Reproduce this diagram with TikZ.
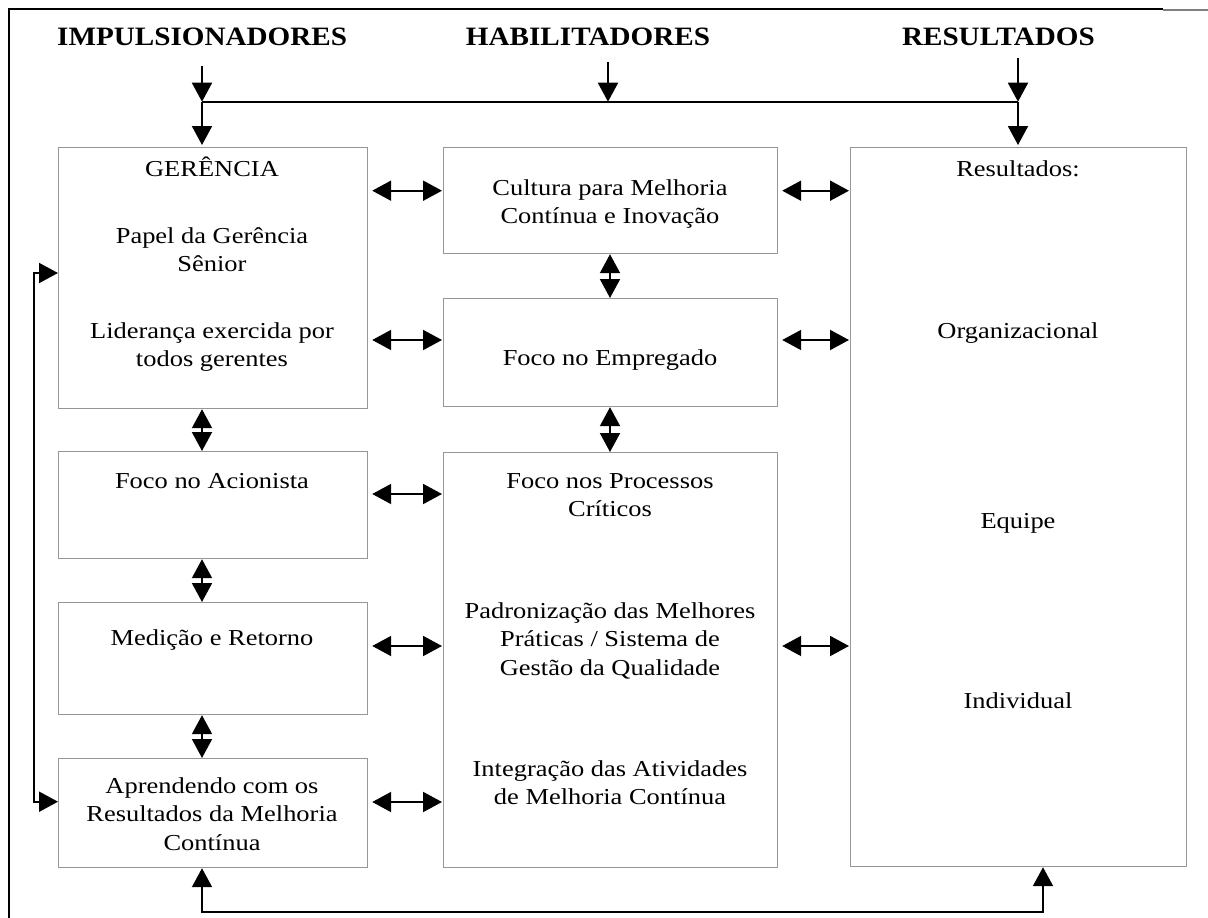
\documentclass[tikz,border=0pt]{standalone}
\usepackage{fontspec}
\setmainfont{Liberation Serif}[FakeStretch=1.16]
\newfontfamily\hdrfont{Liberation Serif}[FakeStretch=1.1]
\usetikzlibrary{arrows.meta,calc}
\definecolor{boxgray}{RGB}{150,150,150}
\tikzset{
  box/.style={draw=boxgray, line width=1.2pt, inner sep=0pt, anchor=north west},
  txt/.style={font=\fontsize{22.8}{28.5}\selectfont, anchor=base, inner sep=0pt},
  hdr/.style={font=\hdrfont\fontsize{26.5}{31}\selectfont\bfseries, inner sep=0pt},
  tip/.style={-{Triangle[length=19pt,width=20pt]}},
  dbl/.style={{Triangle[length=19pt,width=20pt]}-{Triangle[length=19pt,width=20pt]}},
  conn/.style={line width=2pt, black},
}
\begin{document}
\begin{tikzpicture}[x=1pt,y=-1pt]
\useasboundingbox (0,0) rectangle (1208,918);
% frame
\draw[line width=2pt] (9,918) -- (9,9) -- (1163,9);
\draw[line width=2pt, gray] (1163,10) -- (1208,10);

% headers
\node[hdr, anchor=base west] (himp) at (57,45) {IMPULSIONADORES};
\node[hdr, anchor=base] (hhab) at (588,45) {HABILITADORES};
\node[hdr, anchor=base east] (hres) at (1095,45) {RESULTADOS};

% boxes
\node[box, minimum width=309pt, minimum height=261pt] (ger) at (58,147) {};
\node[box, minimum width=309pt, minimum height=107pt] (aci) at (58,451) {};
\node[box, minimum width=309pt, minimum height=112pt] (med) at (58,602) {};
\node[box, minimum width=309pt, minimum height=109pt] (apr) at (58,758) {};
\node[box, minimum width=334pt, minimum height=106pt] (cul) at (443,147) {};
\node[box, minimum width=334pt, minimum height=108pt] (emp) at (443,298) {};
\node[box, minimum width=334pt, minimum height=415pt] (pro) at (443,452) {};
\node[box, minimum width=336pt, minimum height=719pt] (res) at (850,147) {};

% texts
\node[txt] (t1) at (212,176) {GERÊNCIA};
\node[txt] (t2) at (212,243) {Papel da Gerência};
\node[txt] (t3) at (212,271) {Sênior};
\node[txt] (t4) at (212,338) {Liderança exercida por};
\node[txt] (t5) at (212,366) {todos gerentes};
\node[txt] (t6) at (212,488) {Foco no Acionista};
\node[txt] (t7) at (212,645) {Medição e Retorno};
\node[txt] (t8) at (212,793) {Aprendendo com os};
\node[txt] (t9) at (212,821.5) {Resultados da Melhoria};
\node[txt] (t10) at (212,850) {Contínua};
\node[txt] (c1) at (610,195) {Cultura para Melhoria};
\node[txt] (c2) at (610,223.5) {Contínua e Inovação};
\node[txt] (c3) at (610,365) {Foco no Empregado};
\node[txt] (c4) at (610,488) {Foco nos Processos};
\node[txt] (c5) at (610,516.5) {Críticos};
\node[txt] (c6) at (610,618) {Padronização das Melhores};
\node[txt] (c7) at (610,646.5) {Práticas / Sistema de};
\node[txt] (c8) at (610,675) {Gestão da Qualidade};
\node[txt] (c9) at (610,776) {Integração das Atividades};
\node[txt] (c10) at (610,804.5) {de Melhoria Contínua};
\node[txt] (r1) at (1018,176) {Resultados:};
\node[txt] (r2) at (1018,338) {Organizacional};
\node[txt] (r3) at (1018,528) {Equipe};
\node[txt] (r4) at (1018,708) {Individual};

% top distribution
\coordinate (jl) at (202,101.7);
\coordinate (jm) at (608,101.7);
\coordinate (jr) at (1018,101.7);
\coordinate (sl) at (202,66);
\coordinate (sm) at (608,62);
\coordinate (sr) at (1018,58);
\draw[conn, tip] (sl) -- (jl);
\draw[conn, tip] (sm) -- (jm);
\draw[conn, tip] (sr) -- (jr);
\draw[conn] (jl) -- (jr);
\draw[conn, tip, shorten >=2pt] (jl) -- (jl |- ger.north);
\draw[conn, tip, shorten >=2pt] (jr) -- (jr |- res.north);

% horizontal double arrows left-middle
\draw[conn, dbl, shorten <=4pt, shorten >=1pt] (ger.east |- 0,190.7) -- (cul.west |- 0,190.7);
\draw[conn, dbl, shorten <=4pt, shorten >=1pt] (ger.east |- 0,340) -- (emp.west |- 0,340);
\draw[conn, dbl, shorten <=4pt, shorten >=1pt] (aci.east |- 0,494) -- (pro.west |- 0,494);
\draw[conn, dbl, shorten <=4pt, shorten >=1pt] (med.east |- 0,646) -- (pro.west |- 0,646);
\draw[conn, dbl, shorten <=4pt, shorten >=1pt] (apr.east |- 0,802) -- (pro.west |- 0,802);
% middle-right
\draw[conn, dbl, shorten <=4pt, shorten >=1pt] (cul.east |- 0,190.7) -- (res.west |- 0,190.7);
\draw[conn, dbl, shorten <=4pt, shorten >=1pt] (emp.east |- 0,340) -- (res.west |- 0,340);
\draw[conn, dbl, shorten <=4pt, shorten >=1pt] (pro.east |- 0,646) -- (res.west |- 0,646);

% vertical double arrows
\draw[conn, dbl] (202,0 |- ger.south) -- (202,0 |- aci.north);
\draw[conn, dbl] (202,0 |- aci.south) -- (202,0 |- med.north);
\draw[conn, dbl] (202,0 |- med.south) -- (202,0 |- apr.north);
\draw[conn, dbl] (610,0 |- cul.south) -- (610,0 |- emp.north);
\draw[conn, dbl] (610,0 |- emp.south) -- (610,0 |- pro.north);

% feedback left
\coordinate (fa) at (34.3,273);
\coordinate (fb) at (34.3,801.7);
\draw[conn, dbl] (ger.west |- fa) -- (fa) -- (fb) -- (apr.west |- fb);

% bottom
\coordinate (ba) at (202,911.7);
\coordinate (bb) at (1043,911.7);
\draw[conn, dbl] (ba |- apr.south) -- (ba) -- (bb) -- (bb |- res.south);
\end{tikzpicture}
\end{document}
